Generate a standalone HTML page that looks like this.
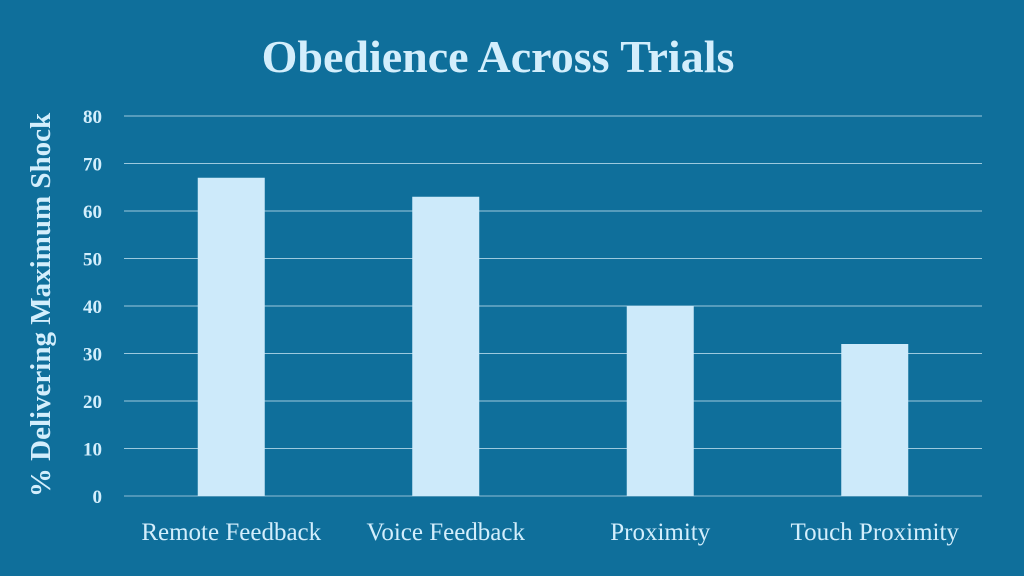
<!DOCTYPE html>
<html><head><meta charset="utf-8"><style>
html,body{margin:0;padding:0;background:#0f6f9b;}
svg{display:block;font-family:"Liberation Serif",serif;}
</style></head><body>
<svg id="chart" width="1024" height="576" viewBox="0 0 1024 576" xmlns="http://www.w3.org/2000/svg">
<rect width="1024" height="576" fill="#0f6f9b"/>
<text x="498" y="72" text-anchor="middle" font-size="46" font-weight="bold" fill="#d3eefc">Obedience Across Trials</text>
<text transform="translate(50,305) rotate(-90)" text-anchor="middle" font-size="29" font-weight="bold" fill="#d3eefc">% Delivering Maximum Shock</text>
<g id="grid"></g><g id="bars"></g><g id="xlabels"></g>
</svg>
<script>
const categories = ["Remote Feedback","Voice Feedback","Proximity","Touch Proximity"];
const values = [67, 63, 40, 32];
const yTicks = [0,10,20,30,40,50,60,70,80];
const NS="http://www.w3.org/2000/svg";
const x0=124,x1=982,y0=496,y1=116,yMax=80;
const y=v=>y0-(v/yMax)*(y0-y1);
const band=(x1-x0)/categories.length;
const xc=i=>x0+band*(i+0.5);
function mk(t,a){const e=document.createElementNS(NS,t);for(const k in a)e.setAttribute(k,a[k]);return e;}
const grid=document.getElementById('grid');
yTicks.forEach(t=>{
  const l=mk('line',{x1:x0,x2:x1,y1:y(t),y2:y(t),stroke:t===0?'#8fbdd4':'#9cc9de','stroke-width':1});
  
  
  grid.appendChild(l);
  const tx=mk('text',{x:102,y:y(t)+7,'text-anchor':'end','font-size':19,'font-weight':'bold',fill:'#d3eefc'});
  tx.textContent=t;
  
  
  grid.appendChild(tx);
});
const bars=document.getElementById('bars'),xl=document.getElementById('xlabels');
categories.forEach((c,i)=>{
  const w=67;
  const r=mk('rect',{x:xc(i)-w/2,y:y(values[i]),width:w,height:y0-y(values[i]),fill:'#cdeafa'});
  
  
  bars.appendChild(r);
  const t=mk('text',{x:xc(i),y:540,'text-anchor':'middle','font-size':25,fill:'#d3eefc'});
  t.textContent=c;
  
  
  xl.appendChild(t);
});
</script>
</body></html>
